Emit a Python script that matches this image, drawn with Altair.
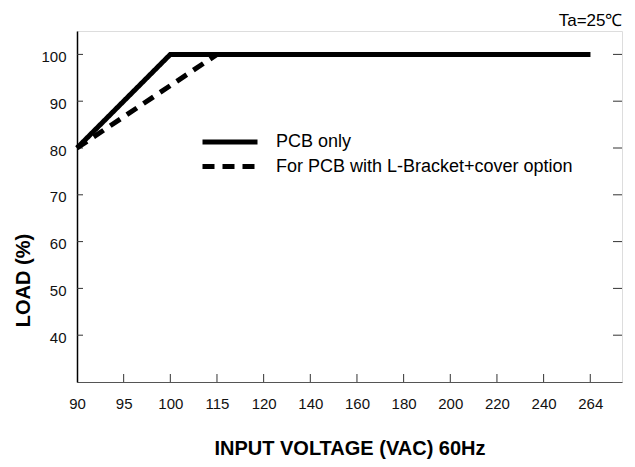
import altair as alt
import pandas as pd

# ---- data ----
x_labels = [90, 95, 100, 115, 120, 140, 160, 180, 200, 220, 240, 264]
y_ticks = [40, 50, 60, 70, 80, 90, 100]

series_names = ["PCB only", "For PCB with L-Bracket+cover option"]
solid_voltage = [90, 100, 264]
solid_load = [80, 100, 100]
dashed_voltage = [90, 115, 264]
dashed_load = [80, 100, 100]

FONT = "Liberation Sans, Arial, sans-serif"
W, H = 545, 351
X_MAX = 11.68

rows = []
for v, l in zip(dashed_voltage, dashed_load):
    rows.append({"series": series_names[1], "voltage": v, "idx": x_labels.index(v), "load": l, "order": 0})
for v, l in zip(solid_voltage, solid_load):
    rows.append({"series": series_names[0], "voltage": v, "idx": x_labels.index(v), "load": l, "order": 1})
lines_df = pd.DataFrame(rows)

xtick_df = pd.DataFrame({"idx": list(range(1, len(x_labels))), "v": x_labels[1:]})
ytick_df = pd.DataFrame({"load": y_ticks})

label_expr = "[" + ",".join(f"'{v}'" for v in x_labels) + "][datum.value]"

x_scale = alt.Scale(domain=[0, X_MAX], nice=False, zero=False)
y_scale = alt.Scale(domain=[30, 105], nice=False, zero=False)

x_axis = alt.Axis(
    values=list(range(len(x_labels))), labelExpr=label_expr, ticks=False, grid=False,
    labelFont=FONT, labelFontSize=15, labelColor="#111", labelPadding=26,
    labelBaseline="alphabetic", labelFlush=False, domainColor="#555", domainWidth=1.2,
    title="INPUT VOLTAGE (VAC) 60Hz", titleFont=FONT, titleFontSize=20,
    titleFontWeight="bold", titleColor="#000", titleBaseline="alphabetic",
    titleY=72, titleX=W / 2, titleAnchor="middle",
)
y_axis = alt.Axis(
    values=y_ticks, ticks=False, grid=False, labelFont=FONT, labelFontSize=15,
    labelColor="#111", labelPadding=11, labelOffset=2, domainColor="#000", domainWidth=1.5,
    title="LOAD (%)", titleFont=FONT, titleFontSize=20, titleFontWeight="bold",
    titleColor="#000", titleAngle=270, titleBaseline="middle", titleAlign="center",
    titleX=-54, titleY=249,
)

lines = alt.Chart(lines_df).mark_line(strokeWidth=5, color="black", strokeJoin="miter").encode(
    x=alt.X("idx:Q", scale=x_scale, axis=x_axis),
    y=alt.Y("load:Q", scale=y_scale, axis=y_axis),
    strokeDash=alt.StrokeDash(
        "series:N",
        scale=alt.Scale(domain=series_names, range=[[1, 0], [12, 8]]),
        legend=alt.Legend(
            title=None, orient="none", legendX=144, legendY=102, padding=0,
            symbolType="M-5,0H5", symbolSize=121, symbolStrokeWidth=5,
            symbolStrokeColor="black", symbolFillColor="transparent",
            labelFont=FONT, labelFontSize=18, labelColor="#000", labelOffset=37,
            rowPadding=4.5, labelLimit=400,
        ),
    ),
    detail="series:N",
    order="order:Q",
)

bottom_ticks = alt.Chart(xtick_df).mark_rule(color="#333", strokeWidth=1).encode(
    x=alt.X("idx:Q", scale=x_scale), y=alt.value(H - 8), y2=alt.value(H)
)
left_ticks = alt.Chart(ytick_df).mark_rule(color="#333", strokeWidth=1).encode(
    y=alt.Y("load:Q", scale=y_scale), x=alt.value(0), x2=alt.value(6)
)
right_ticks = alt.Chart(ytick_df).mark_rule(color="#333", strokeWidth=1).encode(
    y=alt.Y("load:Q", scale=y_scale), x=alt.value(W - 9), x2=alt.value(W)
)

chart = alt.layer(bottom_ticks, left_ticks, right_ticks, lines).properties(
    width=W, height=H,
    autosize=alt.AutoSizeParams(type="none"),
    padding={"left": 69, "top": 23, "right": 3, "bottom": 77},
    title=alt.TitleParams("Ta=25℃", anchor="end", font=FONT, fontSize=17,
                          fontWeight="normal", color="#000", offset=1),
).configure_view(stroke="#777", strokeWidth=1.2).configure(background="white")

chart.save("out.html", embed_options={"renderer": "svg", "actions": False})
